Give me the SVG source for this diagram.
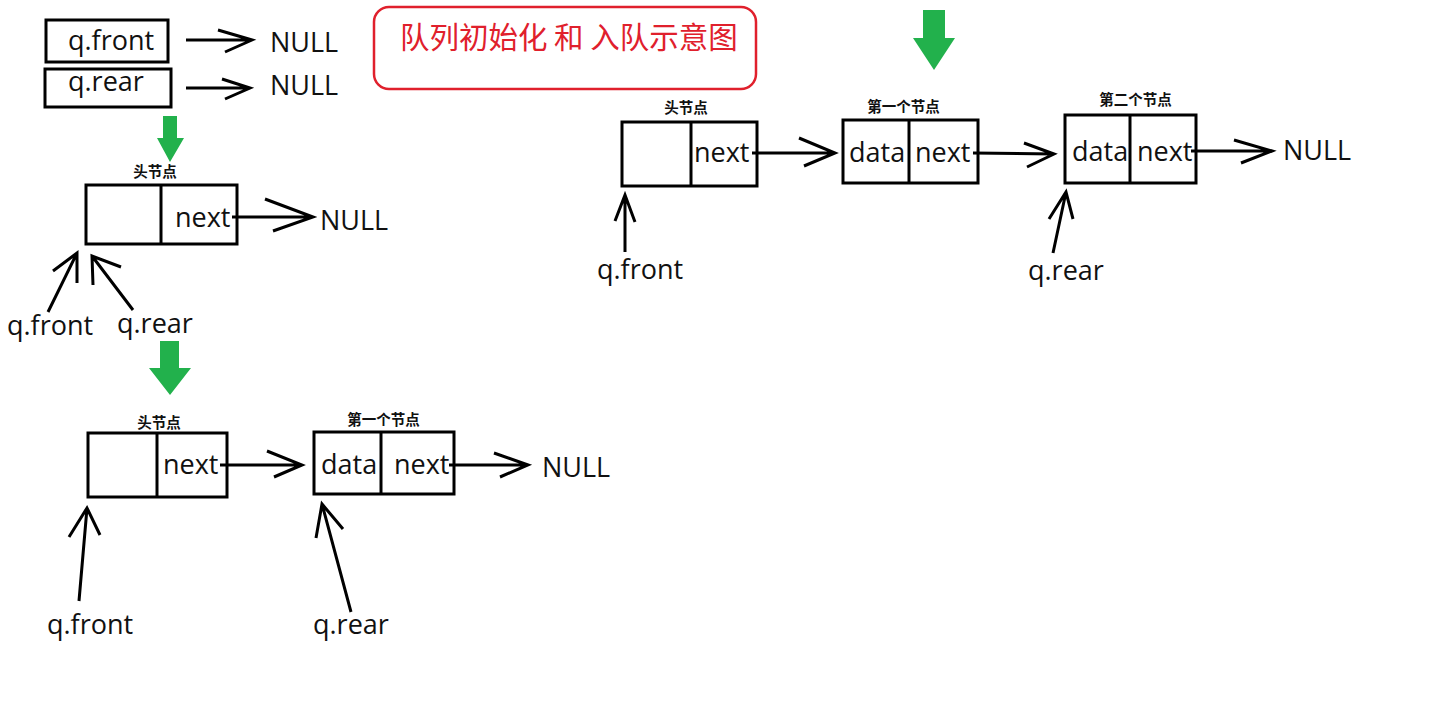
<svg xmlns="http://www.w3.org/2000/svg" width="1443" height="704" viewBox="0 0 1443 704">
<style>
.box{fill:none;stroke:#000;stroke-width:3}
.div{stroke:#000;stroke-width:3}
.t{font-family:"Open Sans","Noto Sans",sans-serif;font-size:27px;fill:#111}
.s{font-family:"Noto Sans CJK SC",sans-serif;font-size:14.5px;font-weight:bold;fill:#111;text-anchor:middle}
.title{font-family:"Noto Sans CJK SC",sans-serif;font-size:29.5px;fill:#e0202c}
.c{fill:none;stroke:#000;stroke-width:3;stroke-linecap:butt;stroke-linejoin:miter}
.g{fill:#22b14c}
</style>
<rect width="1443" height="704" fill="#fff"/>

<g id="title">
<rect x="374" y="7" width="382" height="82" rx="15" ry="15" fill="none" stroke="#e0202c" stroke-width="2.5"/>
<text class="title" x="400" y="48">队列初始化 和 入队示意图</text>
</g>

<g id="init-front">
<rect class="box" x="46" y="20" width="122" height="42"/>
<text class="t" x="68" y="50">q.front</text>
</g>
<g id="init-rear">
<rect class="box" x="45" y="69" width="126" height="38"/>
<text class="t" x="68" y="91">q.rear</text>
</g>
<g id="null-a"><text class="t" x="270" y="52">NULL</text></g>
<g id="null-b"><text class="t" x="270" y="95">NULL</text></g>

<g id="step-arrows">
<polygon class="g" points="163,116 177,116 177,138 184,138 170,162 157,138 163,138"/>
<polygon class="g" points="160,341 179,341 179,368 191,368 170,395 149,368 160,368"/>
<polygon class="g" points="923,10 945,10 945,38 955,38 934,70 913,38 923,38"/>
</g>

<!-- stage 1 -->
<g id="s1-head">
<text class="s" x="155" y="177">头节点</text>
<rect class="box" x="86" y="185" width="151" height="59"/>
<line class="div" x1="161" y1="185" x2="161" y2="244"/>
<text class="t" x="175" y="227">next</text>
</g>
<g id="s1-null"><text class="t" x="320" y="230">NULL</text></g>
<g id="s1-front"><text class="t" x="7" y="335">q.front</text></g>
<g id="s1-rear"><text class="t" x="117" y="333">q.rear</text></g>

<!-- stage 2 -->
<g id="s2-head">
<text class="s" x="159" y="428">头节点</text>
<rect class="box" x="88" y="433" width="139" height="64"/>
<line class="div" x1="157" y1="433" x2="157" y2="497"/>
<text class="t" x="163" y="474">next</text>
</g>
<g id="s2-first">
<text class="s" x="383.5" y="425">第一个节点</text>
<rect class="box" x="314" y="432" width="140" height="62"/>
<line class="div" x1="381" y1="432" x2="381" y2="494"/>
<text class="t" x="321" y="474">data</text>
<text class="t" x="394" y="474">next</text>
</g>
<g id="s2-null"><text class="t" x="542" y="477">NULL</text></g>
<g id="s2-front"><text class="t" x="47" y="634">q.front</text></g>
<g id="s2-rear"><text class="t" x="313" y="634">q.rear</text></g>

<!-- stage 3 -->
<g id="s3-head">
<text class="s" x="686" y="113">头节点</text>
<rect class="box" x="622" y="122" width="135" height="64"/>
<line class="div" x1="691" y1="122" x2="691" y2="186"/>
<text class="t" x="694" y="162">next</text>
</g>
<g id="s3-first">
<text class="s" x="903.5" y="112">第一个节点</text>
<rect class="box" x="843" y="120" width="135" height="63"/>
<line class="div" x1="909" y1="120" x2="909" y2="183"/>
<text class="t" x="849" y="162">data</text>
<text class="t" x="915" y="162">next</text>
</g>
<g id="s3-second">
<text class="s" x="1135.5" y="105">第二个节点</text>
<rect class="box" x="1065" y="115" width="131" height="68"/>
<line class="div" x1="1130" y1="115" x2="1130" y2="183"/>
<text class="t" x="1072" y="161">data</text>
<text class="t" x="1137" y="161">next</text>
</g>
<g id="s3-null"><text class="t" x="1283" y="160">NULL</text></g>
<g id="s3-front"><text class="t" x="597" y="279">q.front</text></g>
<g id="s3-rear"><text class="t" x="1028" y="280">q.rear</text></g>

<g id="connectors">
<path class="c" d="M186 40 L252 40 M218 30 L252 40 L225 52"/>
<path class="c" d="M186 88 L250 88 M222 79 L250 88 L225 99"/>

<path class="c" d="M232 217 L313 217 M265 199 L313 217 L273 231"/>
<path class="c" d="M48 312 L77 253 M53 271 L77 253 L77 283"/>
<path class="c" d="M133 310 L92 256 M93 285 L92 256 L121 267"/>

<path class="c" d="M220 465 L302 465 M267 451 L302 465 L274 477"/>
<path class="c" d="M449 465 L528 465 M494 453 L528 465 L500 477"/>
<path class="c" d="M79 601 L87 508 M69 537 L87 508 L100 535"/>
<path class="c" d="M351 612 L322 504 M316 538 L322 504 L343 529"/>

<path class="c" d="M752 153 L835 153 M799 138 L835 153 L804 166"/>
<path class="c" d="M973 153 L1054 154 M1024 143 L1054 154 L1027 167"/>
<path class="c" d="M1191 151 L1272 151 M1234 140 L1272 151 L1241 163"/>
<path class="c" d="M625 252 L625 195 M615 221 L625 195 L635 222"/>
<path class="c" d="M1053 253 L1066 192 M1049 219 L1066 192 L1073 219"/>
</g>
</svg>
